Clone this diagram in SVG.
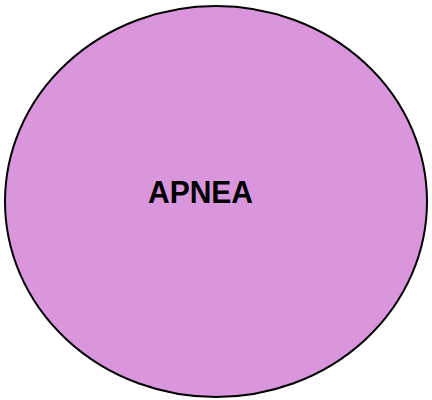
<svg xmlns="http://www.w3.org/2000/svg" width="432" height="400" viewBox="0 0 432 400">
<style>
.node{fill:#D996DD;stroke:#000;stroke-width:2}
.lbl{font-family:"Liberation Sans",Arial,sans-serif;font-weight:bold;font-size:32px;fill:#000}
</style>
<rect width="432" height="400" fill="#fff"/>
<g id="connectors"></g>
<g id="apnea">
<ellipse class="node" cx="216" cy="201.5" rx="211" ry="195.5"/>
<text class="lbl" x="200.5" y="203" text-anchor="middle" textLength="105" lengthAdjust="spacingAndGlyphs">APNEA</text>
</g>
</svg>
